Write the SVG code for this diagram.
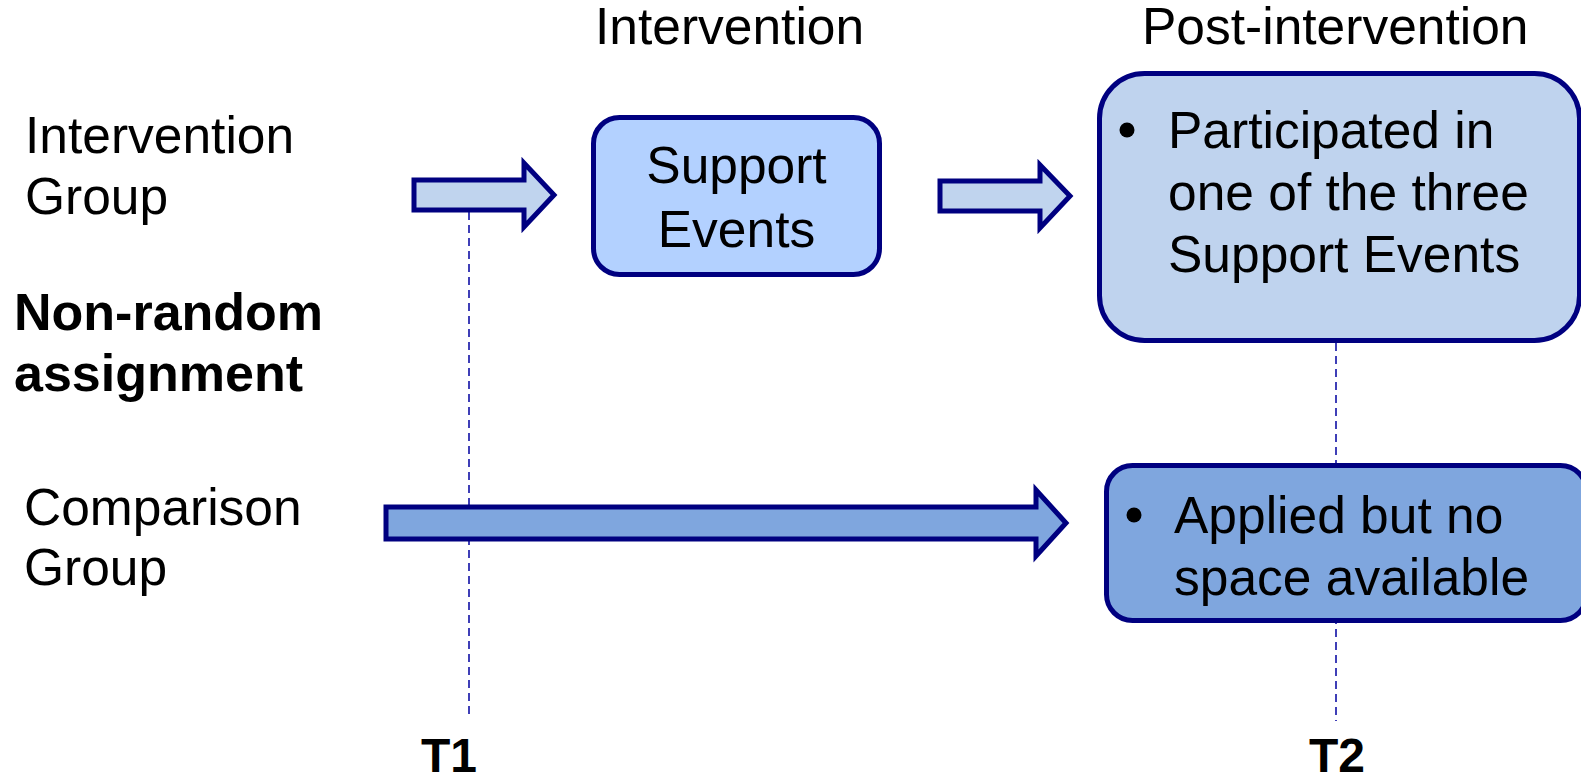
<svg xmlns="http://www.w3.org/2000/svg" width="1581" height="783" viewBox="0 0 1581 783">
<style>
.t{font-family:"Liberation Sans",Arial,sans-serif;font-size:51.5px;fill:#000}
.tb{font-family:"Liberation Sans",Arial,sans-serif;font-size:52px;font-weight:bold;fill:#000}
.bx{font-family:"Liberation Sans",Arial,sans-serif;font-size:51.5px;fill:#000}
.arr{stroke:#000080;stroke-width:5;stroke-linejoin:miter}
.box{stroke:#000080;stroke-width:5}
.dash{stroke:#0000a0;stroke-width:1.5;stroke-dasharray:8,5;fill:none}
</style>
<rect width="1581" height="783" fill="#fff"/>
<g id="headers">
<text class="t" x="595" y="44">Intervention</text>
<text class="t" x="1142" y="44">Post-intervention</text>
</g>
<g id="labels">
<text class="t" x="25" y="153">Intervention</text>
<text class="t" x="25" y="214">Group</text>
<text class="tb" x="14" y="330">Non-random</text>
<text class="tb" x="14" y="391">assignment</text>
<text class="t" x="24" y="525">Comparison</text>
<text class="t" x="24" y="585">Group</text>
</g>
<g id="connectors">
<line class="dash" x1="469" y1="212" x2="469" y2="718"/>
<line class="dash" x1="1336" y1="343" x2="1336" y2="721"/>
<polygon class="arr" fill="#c0d4ee" points="414,180 524,180 524,163 554,195 524,227 524,210 414,210"/>
<polygon class="arr" fill="#c0d4ee" points="940,181 1040,181 1040,165 1070,196 1040,228 1040,211 940,211"/>
<polygon class="arr" fill="#7fa6de" points="386,507 1036,507 1036,490 1066,523 1036,556 1036,539 386,539"/>
</g>
<g id="support-events">
<rect class="box" x="593.5" y="117.5" width="286" height="157" rx="26" fill="#b3d1ff"/>
<text class="bx" x="736.5" y="183" text-anchor="middle">Support</text>
<text class="bx" x="736.5" y="247" text-anchor="middle">Events</text>
</g>
<g id="post-box">
<rect class="box" x="1099.5" y="73.5" width="480" height="267" rx="45" fill="#bfd3ee"/>
<circle cx="1127" cy="130" r="7.5" fill="#000"/>
<text class="bx" x="1168" y="148">Participated in</text>
<text class="bx" x="1168" y="210">one of the three</text>
<text class="bx" x="1168" y="272">Support Events</text>
</g>
<g id="comparison-box">
<rect class="box" x="1106.5" y="465.5" width="480" height="155" rx="26" fill="#7fa6de"/>
<circle cx="1134" cy="515" r="7.5" fill="#000"/>
<text class="bx" x="1174" y="533">Applied but no</text>
<text class="bx" x="1174" y="595">space available</text>
</g>
<g id="time-labels">
<text class="tb" x="421" y="772" style="font-size:48px">T1</text>
<text class="tb" x="1309" y="772" style="font-size:48px">T2</text>
</g>
</svg>
